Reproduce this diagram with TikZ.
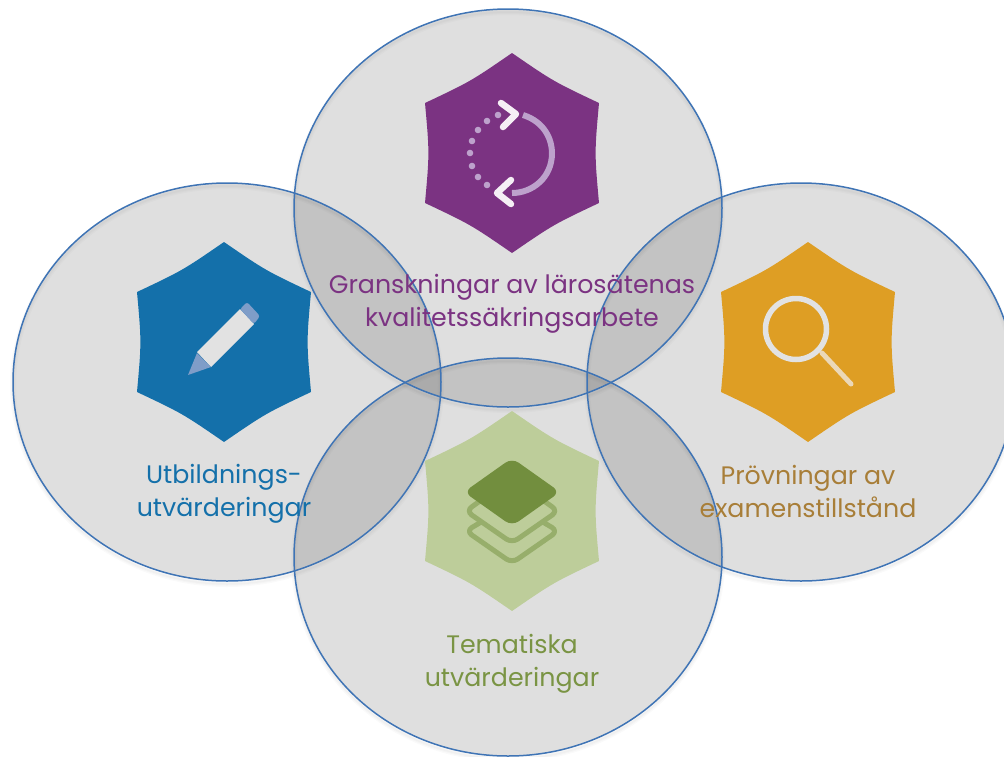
\documentclass[tikz,border=0pt]{standalone}
\usepackage{fontspec}
\setmainfont{Poppins}
\usetikzlibrary{calc}
\definecolor{ringblue}{HTML}{3F74B5}
\definecolor{purp}{HTML}{7B3382}
\definecolor{purplight}{HTML}{BDA2CC}
\definecolor{bluehex}{HTML}{1470AA}
\definecolor{bluelight}{HTML}{7F9DC8}
\definecolor{orangehex}{HTML}{DE9E24}
\definecolor{orangelight}{HTML}{EBD8B8}
\definecolor{orangetext}{HTML}{A87E38}
\definecolor{greenhex}{HTML}{BDCD9A}
\definecolor{greendark}{HTML}{728E3E}
\definecolor{greenmid}{HTML}{97AE6B}
\definecolor{greentext}{HTML}{7A9444}
\definecolor{icongrey}{HTML}{E2E2E2}
\newcommand{\ringshape}[1]{(#1) ellipse [x radius=214,y radius=199]}
\tikzset{
  ringfill/.style={fill=black,fill opacity=0.125,draw=none},
  ringline/.style={draw=ringblue,line width=1.5pt,fill=none},
  ringshade/.style={draw=black,draw opacity=0.02,fill=none},
  lab/.style={font=\fontsize{25.3pt}{33pt}\selectfont,align=center,inner sep=0pt},
  pics/hexb/.style={code={
    \fill[#1] (0,-100)
      .. controls (41.5,-71.5) .. (87,-50)
      .. controls (82.5,0) .. (87,50)
      .. controls (41.5,71.5) .. (0,100)
      .. controls (-41.5,71.5) .. (-87,50)
      .. controls (-82.5,0) .. (-87,-50)
      .. controls (-41.5,-71.5) .. cycle;
  }}
}
\begin{document}
\begin{tikzpicture}[x=1pt,y=-1pt]
\useasboundingbox (0,0) rectangle (1004,756);
\begin{scope}
\clip (0,0) rectangle (1004,756);
\foreach \c in {{508,208},{227,382},{801,382},{508,557}}{
  \path[ringfill] \ringshape{\c};
}
\foreach \c in {{508,208},{227,382},{801,382},{508,557}}{
  \begin{scope}[yshift=-3pt]
    \path[ringshade,line width=6pt] \ringshape{\c};
    \path[ringshade,line width=3.5pt] \ringshape{\c};
    \path[ringshade,line width=1.5pt] \ringshape{\c};
  \end{scope}
}
\foreach \c in {{508,208},{227,382},{801,382},{508,557}}{
  \path[ringline] \ringshape{\c};
}
\end{scope}
% hexagons
\pic at (512,153) {hexb=purp};
\pic at (224,342) {hexb=bluehex};
\pic at (808,342) {hexb=orangehex};
\pic at (512,511) {hexb=greenhex};
% cycle icon
\draw[purplight,line width=6pt] (523,115) .. controls (545,122) and (552,140) .. (552,153) .. controls (552,178) and (532,193) .. (512,193);
\foreach \p in {(498,115),(487,121),(478,130),(472,141),(470,153),(472,166),(478,177),(487,185)}
  \fill[purplight] \p circle (3.3);
\draw[white!92!purp,line width=6.5pt,line cap=round,line join=round] (501,103) -- (516,114) -- (503,127);
\draw[white!92!purp,line width=6.5pt,line cap=round,line join=round] (511,180) -- (497,193) -- (511,204);
% pencil icon
\fill[icongrey] (240,309) -- (254,324) -- (211,367) -- (197,352) -- cycle;
\fill[bluelight] (197,353) -- (211,367) -- (188,375) -- cycle;
\fill[bluelight,rounded corners=2.5pt] (240,309) -- (247,302) -- (260,316) -- (254,324) -- cycle;
% magnifier icon
\draw[orangelight,line width=5pt,line cap=round] (822,353) -- (851,384);
\draw[icongrey,line width=5.5pt] (796,329) circle (30.5);
% layers icon
\draw[greenmid,line width=5pt,line join=round,rounded corners=7pt] (481.7,521.7) -- (466,531) -- (512,563) -- (558,531) -- (542.3,521.7);
\draw[greenmid,line width=5pt,rounded corners=7pt] (512,478) -- (558,511) -- (512,543) -- (466,511) -- cycle;
\fill[greendark,rounded corners=8pt] (512,458) -- (560,492) -- (512,526) -- (464,492) -- cycle;
% labels
\node[lab,text=purp] (topl) at (512,303.5) {Granskningar av lärosätenas\\kvalitetssäkringsarbete};
\node[lab,text=bluehex] (leftl) at (224,493.5) {Utbildnings-\\utvärderingar};
\node[lab,text=orangetext] (rightl) at (808,491.5) {Prövningar av\\examenstillstånd};
\node[lab,text=greentext] (botl) at (512,663.5) {Tematiska\\utvärderingar};
\end{tikzpicture}
\end{document}
